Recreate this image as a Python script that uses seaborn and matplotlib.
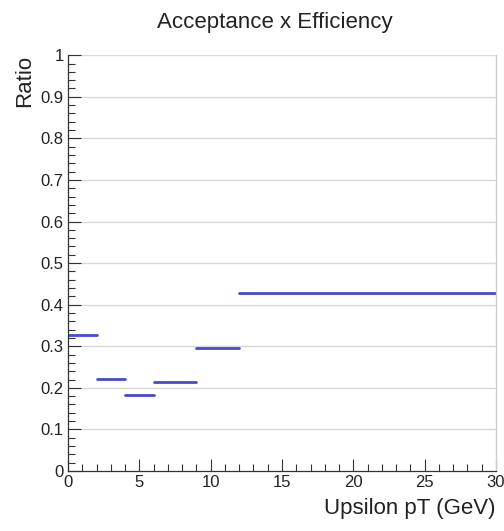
import numpy as np
import pandas as pd
import matplotlib
matplotlib.use("Agg")
import matplotlib.pyplot as plt
from matplotlib.ticker import MultipleLocator
import seaborn as sns

# Data
bin_low = [0, 2, 4, 6, 9, 12]
bin_high = [2, 4, 6, 9, 12, 30]
ratio = [0.327, 0.221, 0.182, 0.215, 0.297, 0.427]
x_ticks = [0, 5, 10, 15, 20, 25, 30]
x_labels = ["0", "5", "10", "15", "20", "25", "30"]
y_ticks = [0, 0.1, 0.2, 0.3, 0.4, 0.5, 0.6, 0.7, 0.8, 0.9, 1.0]
y_labels = ["0", "0.1", "0.2", "0.3", "0.4", "0.5", "0.6", "0.7", "0.8", "0.9", "1"]

sns.set_theme(style="white")
plt.rcParams['font.family'] = ['Liberation Sans', 'DejaVu Sans']

rows = []
for i, (lo, hi, r) in enumerate(zip(bin_low, bin_high, ratio)):
    rows.append({"pt": lo, "ratio": r, "bin": i})
    rows.append({"pt": hi, "ratio": r, "bin": i})
df = pd.DataFrame(rows)

fig = plt.figure(figsize=(5.04, 5.31), dpi=100)
ax = fig.add_axes([0.135, 0.113, 0.849, 0.783])

for y in y_ticks[1:]:
    ax.axhline(y, color="#d8d8d8", lw=1.0, zorder=0)

sns.lineplot(data=df, x="pt", y="ratio", units="bin", estimator=None,
             color="#4a4acc", lw=2.0, ax=ax, legend=False)

ax.set_xlim(0, 30)
ax.set_ylim(0, 1)
ax.set_xticks(x_ticks)
ax.set_xticklabels(x_labels)
ax.set_yticks(y_ticks)
ax.set_yticklabels(y_labels)
ax.xaxis.set_minor_locator(MultipleLocator(1))
ax.yaxis.set_minor_locator(MultipleLocator(0.02))

ax.tick_params(axis="both", which="major", direction="in", length=9, width=0.8,
               color="#333333", labelsize=12, labelcolor="#222222", pad=3)
ax.tick_params(axis="both", which="minor", direction="in", length=5, width=0.8,
               color="#333333")
ax.tick_params(axis="y", which="both", left=True)
ax.tick_params(axis="x", which="both", bottom=True)

for s in ["left", "bottom"]:
    ax.spines[s].set_color("#333333")
    ax.spines[s].set_linewidth(0.9)
ax.spines["top"].set_visible(False)
ax.spines["right"].set_color("#cccccc")
ax.spines["right"].set_linewidth(0.9)

ax.set_xlabel("Upsilon pT (GeV)", fontsize=16, color="#222222", loc="right", labelpad=6)
ax.set_ylabel("Ratio", fontsize=16, color="#222222", loc="top", labelpad=4)
fig.text(0.545, 0.958, "Acceptance x Efficiency", ha="center", va="center",
         fontsize=16, color="#222222")

fig.savefig("out.png", dpi=100, facecolor="white")
